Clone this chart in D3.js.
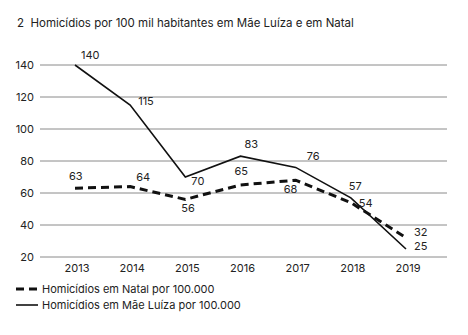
<!DOCTYPE html>
<html>
<head>
<meta charset="utf-8">
<script src="https://cdn.jsdelivr.net/npm/d3@7"></script>
<style>
  body { margin: 0; background: #fff; }
  svg text { font-family: Inter, "Liberation Sans", sans-serif; fill: #222; }
</style>
</head>
<body>
<div id="chart"></div>
<script>
const years = ["2013", "2014", "2015", "2016", "2017", "2018", "2019"];
const natal = [63, 64, 56, 65, 68, 54, 32];
const maeLuiza = [140, 115, 70, 83, 76, 57, 25];
const yTicks = [20, 40, 60, 80, 100, 120, 140];

// label offsets per point (dx, dy)
const natalOffsets = [[-6, -8], [6, -6], [-4, 13], [-6, -10], [-12, 13], [8, 4], [8, -2]];
const maeOffsets = [[6, -6], [8, 0], [6, 8], [4, -8], [11, -7], [-2, -8], [8, 1]];

const width = 468, height = 335;
const svg = d3.select("#chart").append("svg")
    .attr("width", width)
    .attr("height", height);

const x = d3.scalePoint().domain(years).range([75, 406]);
const y = d3.scaleLinear().domain([20, 140]).range([257, 65]);

svg.append("text")
    .attr("x", 17)
    .attr("y", 27)
    .attr("font-size", 11.5)
    .style("white-space", "pre")
    .text("2  Homicídios por 100 mil habitantes em Mãe Luíza e em Natal");

// grid + y labels
svg.selectAll(".grid")
    .data(yTicks)
    .enter().append("line")
    .attr("x1", 40).attr("x2", 447)
    .attr("y1", d => y(d)).attr("y2", d => y(d))
    .attr("stroke", "#8a8a8a").attr("stroke-width", 1);

svg.selectAll(".ylab")
    .data(yTicks)
    .enter().append("text")
    .attr("x", 34)
    .attr("y", d => y(d) + 4)
    .attr("text-anchor", "end")
    .attr("font-size", 11)
    .text(d => d);

svg.selectAll(".xlab")
    .data(years)
    .enter().append("text")
    .attr("x", d => x(d) + 2)
    .attr("y", 272)
    .attr("text-anchor", "middle")
    .attr("font-size", 11)
    .text(d => d);

const line = d3.line()
    .x((d, i) => x(years[i]))
    .y(d => y(d));

svg.append("path")
    .datum(natal)
    .attr("d", line)
    .attr("fill", "none")
    .attr("stroke", "#111")
    .attr("stroke-width", 3)
    .attr("stroke-dasharray", "8,5");

svg.append("path")
    .datum(maeLuiza)
    .attr("d", line)
    .attr("fill", "none")
    .attr("stroke", "#111")
    .attr("stroke-width", 1.6);

function addLabels(values, offsets) {
    svg.append("g").selectAll("text")
        .data(values)
        .enter().append("text")
        .attr("x", (d, i) => x(years[i]) + offsets[i][0])
        .attr("y", (d, i) => y(d) + offsets[i][1])
        .attr("font-size", 11)
        .text(d => d);
}
addLabels(natal, natalOffsets);
addLabels(maeLuiza, maeOffsets);

// legend
const legend = svg.append("g");
legend.append("line")
    .attr("x1", 16).attr("x2", 38).attr("y1", 289).attr("y2", 289)
    .attr("stroke", "#111").attr("stroke-width", 3)
    .attr("stroke-dasharray", "8,5");
legend.append("text")
    .attr("x", 42).attr("y", 293)
    .attr("font-size", 11)
    .text("Homicídios em Natal por 100.000");
legend.append("line")
    .attr("x1", 16).attr("x2", 38).attr("y1", 305).attr("y2", 305)
    .attr("stroke", "#111").attr("stroke-width", 1.6);
legend.append("text")
    .attr("x", 42).attr("y", 309)
    .attr("font-size", 11)
    .text("Homicídios em Mãe Luíza por 100.000");
</script>
</body>
</html>
